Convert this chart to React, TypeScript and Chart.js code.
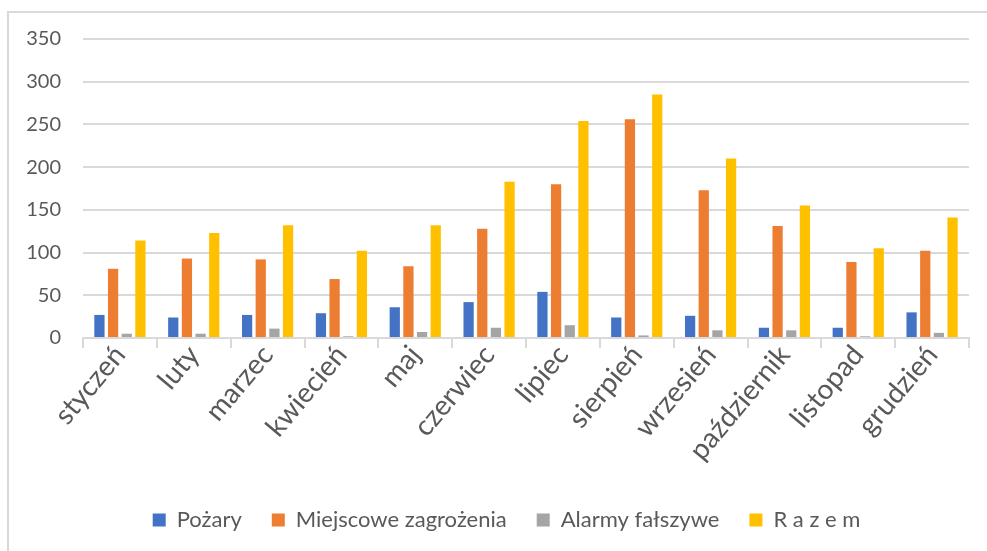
import React, { useEffect, useRef } from "react";
import { Chart, registerables } from "chart.js";

Chart.register(...registerables);

const months = [
  "styczeń", "luty", "marzec", "kwiecień", "maj", "czerwiec",
  "lipiec", "sierpień", "wrzesień", "październik", "listopad", "grudzień",
];
const pozary = [27, 24, 27, 29, 36, 42, 54, 24, 26, 12, 12, 30];
const miejscowe = [81, 93, 92, 69, 84, 128, 180, 256, 173, 131, 89, 102];
const alarmy = [5, 5, 11, 2, 7, 12, 15, 3, 9, 9, 2, 6];
const razem = [114, 123, 132, 102, 132, 183, 254, 285, 210, 155, 105, 141];

const seriesNames = ["Pożary", "Miejscowe zagrożenia", "Alarmy fałszywe", "R a z e m"];
const seriesColors = ["#4472C4", "#ED7D31", "#A5A5A5", "#FFC000"];
const yTicks = [0, 50, 100, 150, 200, 250, 300, 350];

const FONT = "Lato, 'Open Sans', sans-serif";
const TEXT = "#595959";
const GRID = "#d9d9d9";

const CHART_BOTTOM = 338;
const LEGEND_MAX_H = 40;
const LEGEND_CENTER_Y = 520;
const LEGEND_CENTER_X = 506.5;

const legendMover = {
  id: "legendMover",
  afterLayout(chart: any) {
    const lg = chart.legend;
    if (!lg) return;
    const pad = lg.options.labels.padding;
    const size = lg.options.labels.font.size;
    lg.top = LEGEND_CENTER_Y - pad - size / 2;
    lg.bottom = chart.height;
    lg.height = lg.bottom - lg.top;
    const dx = LEGEND_CENTER_X - (lg.left + lg.right) / 2;
    lg.left += dx;
    lg.right += dx;
  },
};

export default function App() {
  const ref = useRef<HTMLCanvasElement>(null);
  useEffect(() => {
    if (!ref.current) return;
    const data = [pozary, miejscowe, alarmy, razem];
    const chart = new Chart(ref.current, {
      type: "bar",
      data: {
        labels: months,
        datasets: data.map((d, i) => ({
          label: seriesNames[i],
          data: d,
          backgroundColor: seriesColors[i],
          borderWidth: 0,
          categoryPercentage: 0.74,
          barPercentage: 0.75,
        })),
      },
      plugins: [legendMover],
      options: {
        animation: false,
        responsive: false,
        devicePixelRatio: 1,
        layout: { padding: { top: 39, left: 0, right: 18, bottom: 0 } },
        plugins: {
          tooltip: { enabled: false },
          legend: {
            position: "bottom",
            maxHeight: LEGEND_MAX_H,
            labels: {
              boxWidth: 13,
              boxHeight: 13,
              padding: 30,
              color: TEXT,
              font: { family: FONT, size: 22 },
            },
          },
        },
        scales: {
          x: {
            afterFit: (s: any) => { s.height = 551 - LEGEND_MAX_H - CHART_BOTTOM; },
            grid: {
              display: true,
              drawOnChartArea: false,
              drawTicks: true,
              tickLength: 10,
              color: GRID,
              lineWidth: 2,
              offset: true,
            },
            border: { display: true, color: GRID, width: 2 },
            ticks: {
              color: TEXT,
              font: { family: FONT, size: 28 },
              minRotation: 50,
              maxRotation: 50,
              autoSkip: false,
              padding: -9,
            },
          },
          y: {
            min: 0,
            max: 350,
            afterFit: (s: any) => { s.width = 83; },
            afterBuildTicks: (s: any) => { s.ticks = yTicks.map((v) => ({ value: v })); },
            grid: { color: GRID, lineWidth: 2, drawTicks: false },
            border: { display: false },
            ticks: {
              color: TEXT,
              font: { family: FONT, size: 20 },
              padding: 22,
            },
          },
        },
      },
    });
    return () => chart.destroy();
  }, []);
  return (
    <div style={{ position: "fixed", left: 0, top: 0, width: 987, height: 551, background: "#fff" }}>
      <div
        style={{
          position: "absolute",
          left: 7,
          top: 11,
          right: 0,
          bottom: 0,
          borderLeft: `2px solid ${GRID}`,
          borderTop: `2px solid ${GRID}`,
        }}
      />
      <canvas ref={ref} width={987} height={551} style={{ position: "absolute", left: 0, top: 0 }} />
    </div>
  );
}
